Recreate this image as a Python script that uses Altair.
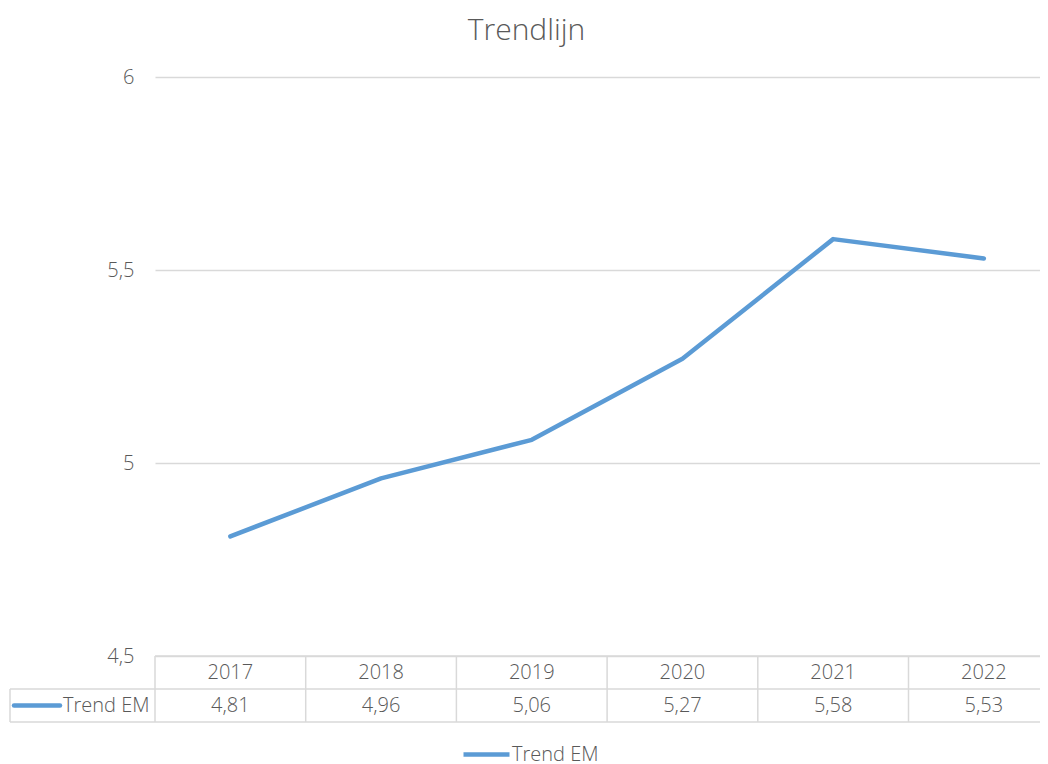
import altair as alt
import pandas as pd

# ---- data ----
years = ["2017", "2018", "2019", "2020", "2021", "2022"]
values = [4.81, 4.96, 5.06, 5.27, 5.58, 5.53]
series_name = "Trend EM"
y_ticks = [4.5, 5.0, 5.5, 6.0]
title_text = "Trendlijn"

# ---- layout constants ----
W, H = 885, 579          # plot area (one column = 150.7 px)
COL_PX = 150.7
Y_MIN, Y_MAX = 4.5, 6.0
XMAX = W / COL_PX        # columns visible in the view
U = (Y_MAX - Y_MIN) / H  # value units per pixel (vertical)
ROW = 33 * U             # table row height in value units
LEFT = -145 / COL_PX     # left edge of the row-label cell

GRID = "#d9d9d9"
TXT = "#595959"
BLUE = "#5B9BD5"
FONT = "Open Sans"
FW = 300

n = len(years)
df = pd.DataFrame({"year": years, "value": values, "i": [k + 0.5 for k in range(n)],
                   "series": series_name})
df["label"] = [f"{v:.2f}".replace(".", ",") for v in values]

xs = alt.Scale(domain=[0, XMAX], nice=False, zero=False)
ys = alt.Scale(domain=[Y_MIN, Y_MAX], nice=False, zero=False)

base = alt.Chart(df)

line = base.mark_line(strokeWidth=4.5, strokeCap="round", strokeJoin="round").encode(
    x=alt.X("i:Q", scale=xs, axis=None),
    y=alt.Y("value:Q", scale=ys,
            axis=alt.Axis(values=y_ticks, labelExpr="replace(format(datum.value, '.1~f'), '.', ',')",
                          domain=False, ticks=False, grid=True, gridColor=GRID, gridWidth=1.5,
                          labelFont=FONT, labelFontSize=20, labelFontWeight=FW, labelColor=TXT,
                          labelPadding=21, title=None)),
    color=alt.Color("series:N", scale=alt.Scale(range=[BLUE]),
                    legend=alt.Legend(orient="none", legendX=306, legendY=652, title=None,
                                      symbolType="stroke", symbolSize=2116, symbolStrokeWidth=4.5,
                                      labelFont=FONT, labelFontSize=20, labelFontWeight=FW,
                                      labelColor=TXT, labelOffset=0)),
)

# table borders
h_rules = pd.DataFrame({
    "x": [0, LEFT, LEFT],
    "x2": [XMAX + 1, XMAX + 1, XMAX + 1],
    "y": [Y_MIN, Y_MIN - ROW, Y_MIN - 2 * ROW],
})
v_rules = pd.DataFrame({
    "x": [LEFT] + list(range(n + 1)),
    "y": [Y_MIN - ROW] + [Y_MIN] * (n + 1),
    "y2": [Y_MIN - 2 * ROW] * (n + 2),
})
hr = alt.Chart(h_rules).mark_rule(color=GRID, strokeWidth=1.5).encode(
    x=alt.X("x:Q", scale=xs, axis=None), x2="x2:Q", y=alt.Y("y:Q", scale=ys))
vr = alt.Chart(v_rules).mark_rule(color=GRID, strokeWidth=1.5).encode(
    x=alt.X("x:Q", scale=xs, axis=None), y=alt.Y("y:Q", scale=ys), y2="y2:Q")

hdr = base.mark_text(font=FONT, fontSize=20, fontWeight=FW, color=TXT, baseline="middle").encode(
    x=alt.X("i:Q", scale=xs, axis=None), y=alt.datum(Y_MIN - ROW / 2, scale=ys),
    text="year:N")
vals = base.mark_text(font=FONT, fontSize=20, fontWeight=FW, color=TXT, baseline="middle").encode(
    x=alt.X("i:Q", scale=xs, axis=None), y=alt.datum(Y_MIN - 1.5 * ROW, scale=ys),
    text="label:N")

# row label cell: symbol + name
key_df = pd.DataFrame({"x": [-141 / COL_PX], "x2": [-95 / COL_PX], "xt": [-92 / COL_PX],
                       "y": [Y_MIN - 1.5 * ROW], "name": [series_name]})
key_line = alt.Chart(key_df).mark_rule(color=BLUE, strokeWidth=4.5, strokeCap="round").encode(
    x=alt.X("x:Q", scale=xs, axis=None), x2="x2:Q", y=alt.Y("y:Q", scale=ys))
key_text = alt.Chart(key_df).mark_text(font=FONT, fontSize=20, fontWeight=FW, color=TXT,
                                       align="left", baseline="middle").encode(
    x=alt.X("xt:Q", scale=xs, axis=None), y=alt.Y("y:Q", scale=ys), text="name:N")

chart = alt.layer(line, hr, vr, hdr, vals, key_line, key_text).properties(
    width=W, height=H,
    title=alt.TitleParams(title_text, font=FONT, fontSize=30, fontWeight=FW, color=TXT,
                          anchor="middle", frame="group", dx=-71, dy=38, offset=35,
                          baseline="alphabetic"),
    autosize=alt.AutoSizeParams(type="none"),
    padding={"left": 147, "top": 69, "right": 0, "bottom": 106},
).configure_view(stroke=None).configure_axis(domain=False)

chart.save("out.html", embed_options={"renderer": "svg", "actions": False})
